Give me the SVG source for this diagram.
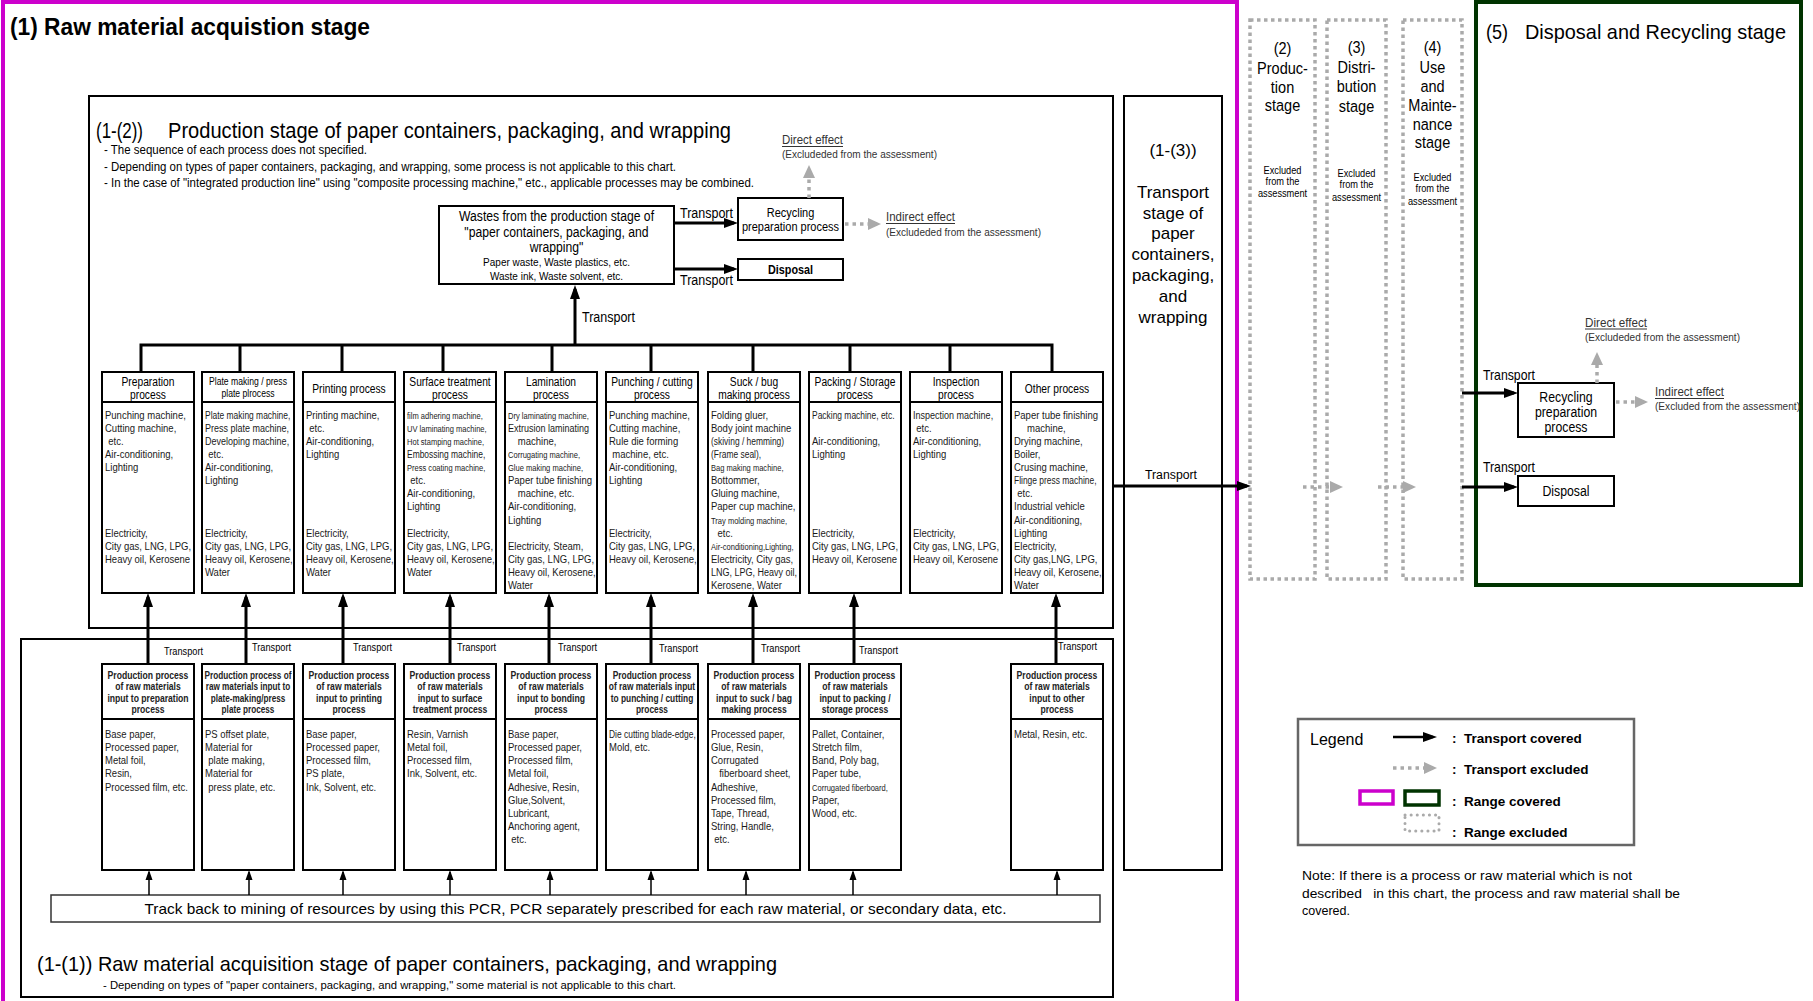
<svg xmlns="http://www.w3.org/2000/svg" width="1813" height="1001" viewBox="0 0 1813 1001">
<style>
text{font-family:"Liberation Sans",Arial,sans-serif;fill:#000}
.bx{fill:#fff;stroke:#000;stroke-width:2}
.fr{fill:none;stroke:#000;stroke-width:2}
.dv{stroke:#000;stroke-width:2}
.hd{font-size:12.5px;text-anchor:middle}
.ct text{fill:#1a1a1a}
.ct{font-size:11.6px}
.md{font-size:11px}
.sm{font-size:10.3px}
.xs{font-size:9.2px}
.rh{font-size:10.5px;font-weight:bold;text-anchor:middle}
.rh text{fill:#222}
.tp{font-size:11px}
.st{font-size:16.5px}
.ex{font-size:10.5px}
.ln{fill:none;stroke:#000;stroke-width:3}
.ar{fill:none;stroke:#000;stroke-width:3;marker-end:url(#ah)}
.as{fill:none;stroke:#000;stroke-width:1.5;marker-end:url(#ahs)}
.ag{fill:none;stroke:#aaa;stroke-width:3.5;stroke-dasharray:3.5 4;marker-end:url(#ahg)}
.db{fill:none;stroke:#aaa;stroke-width:3.5;stroke-dasharray:3.5 3.5}
.gr{fill:#333}
.ul{stroke:#333;stroke-width:1}
.lg{font-size:13.5px;font-weight:bold}
</style>
<defs>
<marker id="ah" markerUnits="userSpaceOnUse" markerWidth="14" markerHeight="10" refX="10" refY="5" orient="auto"><path d="M0,0L14,5L0,10z" fill="#000"/></marker>
<marker id="ahs" markerUnits="userSpaceOnUse" markerWidth="10" markerHeight="8" refX="8" refY="4" orient="auto"><path d="M0,0.5L10,4L0,7.5z" fill="#000"/></marker>
<marker id="ahg" markerUnits="userSpaceOnUse" markerWidth="13" markerHeight="12" refX="9" refY="6" orient="auto"><path d="M0,0L13,6L0,12z" fill="#aaa"/></marker>
</defs>
<rect width="1813" height="1001" fill="#fff"/>

<!-- ranges -->
<g id="range-1">
<rect x="3" y="2" width="1234" height="1010" fill="none" stroke="#cc00cc" stroke-width="4"/>
<text x="10" y="35" font-size="23" font-weight="bold" textLength="360" lengthAdjust="spacingAndGlyphs">(1) Raw material acquistion stage</text>
</g>

<g id="stage-1-2">
<rect class="fr" x="89" y="96" width="1024" height="532"/>
<text x="96" y="138" font-size="22" textLength="47" lengthAdjust="spacingAndGlyphs">(1-(2))</text>
<text x="168" y="138" font-size="22" textLength="563" lengthAdjust="spacingAndGlyphs">Production stage of paper containers, packaging, and wrapping</text>
<text x="104" y="154" font-size="12.5" fill="#222" textLength="263" lengthAdjust="spacingAndGlyphs">- The sequence of each process does not specified.</text>
<text x="104" y="170.5" font-size="12.5" fill="#222" textLength="572" lengthAdjust="spacingAndGlyphs">- Depending on types of paper containers, packaging, and wrapping, some process is not applicable to this chart.</text>
<text x="104" y="187" font-size="12.5" fill="#222" textLength="650" lengthAdjust="spacingAndGlyphs">- In the case of "integrated production line" using "composite processing machine," etc., applicable processes may be combined.</text>
</g>

<g id="stage-1-1">
<rect class="fr" x="21" y="639" width="1092" height="358"/>
<text x="37" y="971" font-size="21" textLength="740" lengthAdjust="spacingAndGlyphs">(1-(1)) Raw material acquisition stage of paper containers, packaging, and wrapping</text>
<text x="103" y="989" font-size="11.5" fill="#222" textLength="573" lengthAdjust="spacingAndGlyphs">- Depending on types of "paper containers, packaging, and wrapping," some material is not applicable to this chart.</text>
</g>

<g id="stage-1-3">
<rect class="fr" x="1124" y="96" width="98" height="774"/>
<g font-size="17" text-anchor="middle">
<text x="1173" y="156">(1-(3))</text>
<text x="1173" y="198">Transport</text>
<text x="1173" y="219">stage of</text>
<text x="1173" y="239">paper</text>
<text x="1173" y="260">containers,</text>
<text x="1173" y="281">packaging,</text>
<text x="1173" y="302">and</text>
<text x="1173" y="323">wrapping</text>
</g>
</g>

<g id="stage-2">
<rect class="db" x="1250" y="20" width="65" height="559"/>
<g transform="matrix(.88 0 0 1 1282.5 0)" text-anchor="middle">
<text class="st" y="54">(2)</text>
<text class="st" y="74">Produc-</text>
<text class="st" y="93">tion</text>
<text class="st" y="111.5">stage</text>
<text class="ex" y="174.5">Excluded</text>
<text class="ex" y="185.5">from the</text>
<text class="ex" y="197">assessment</text>
</g>
</g>
<g id="stage-3">
<rect class="db" x="1327" y="20" width="59" height="559"/>
<g transform="matrix(.88 0 0 1 1356.5 0)" text-anchor="middle">
<text class="st" y="53.5">(3)</text>
<text class="st" y="73">Distri-</text>
<text class="st" y="92.5">bution</text>
<text class="st" y="112">stage</text>
<text class="ex" y="177">Excluded</text>
<text class="ex" y="188.5">from the</text>
<text class="ex" y="201">assessment</text>
</g>
</g>
<g id="stage-4">
<rect class="db" x="1403" y="20" width="59" height="559"/>
<g transform="matrix(.88 0 0 1 1432.5 0)" text-anchor="middle">
<text class="st" y="53.5">(4)</text>
<text class="st" y="73">Use</text>
<text class="st" y="92.5">and</text>
<text class="st" y="111">Mainte-</text>
<text class="st" y="130">nance</text>
<text class="st" y="148.5">stage</text>
<text class="ex" y="181.5">Excluded</text>
<text class="ex" y="192.5">from the</text>
<text class="ex" y="205">assessment</text>
</g>
</g>

<g id="stage-5">
<rect x="1476" y="2" width="325" height="583" fill="none" stroke="#003300" stroke-width="4"/>
<text x="1486" y="38.5" font-size="21" textLength="22" lengthAdjust="spacingAndGlyphs">(5)</text>
<text x="1525" y="38.5" font-size="21" textLength="261" lengthAdjust="spacingAndGlyphs">Disposal and Recycling stage</text>
</g>

<!-- waste handling in production stage -->
<g id="wastes">
<rect class="bx" x="439" y="206" width="235" height="78" stroke-width="1.5"/>
<g transform="matrix(.87 0 0 1 556.5 0)" text-anchor="middle">
<text y="221" font-size="14">Wastes from the production stage of</text>
<text y="237" font-size="14">"paper containers, packaging, and</text>
<text y="252" font-size="14">wrapping"</text>
<text y="266" font-size="11.5" fill="#333">Paper waste, Waste plastics, etc.</text>
<text y="280" font-size="11.5" fill="#333">Waste ink, Waste solvent, etc.</text>
</g>
</g>
<g id="recycle-1">
<rect class="bx" x="738" y="198" width="105" height="42"/>
<g transform="matrix(.82 0 0 1 790.5 0)" text-anchor="middle" font-size="13.4">
<text y="217">Recycling</text>
<text y="231.5">preparation process</text>
</g>
</g>
<g id="disposal-1">
<rect class="bx" x="738" y="259" width="105" height="21"/>
<text transform="matrix(.82 0 0 1 790.5 0)" y="274" text-anchor="middle" font-size="13.2" font-weight="bold">Disposal</text>
</g>
<g id="effects-1">
<text class="gr" x="782" y="144" font-size="12.5" textLength="61" lengthAdjust="spacingAndGlyphs">Direct effect</text>
<line class="ul" x1="782" y1="146.5" x2="843" y2="146.5"/>
<text class="gr" x="782" y="157.5" font-size="10.5" textLength="155" lengthAdjust="spacingAndGlyphs">(Excludeded from the assessment)</text>
<text class="gr" x="886" y="221" font-size="12.5" textLength="69" lengthAdjust="spacingAndGlyphs">Indirect effect</text>
<line class="ul" x1="886" y1="223.5" x2="955" y2="223.5"/>
<text class="gr" x="886" y="236" font-size="10.5" textLength="155" lengthAdjust="spacingAndGlyphs">(Excludeded from the assessment)</text>
</g>

<!-- process boxes -->
<g id="p-preparation">
<rect class="bx" x="102" y="372" width="92" height="221"/>
<line class="dv" x1="102" y1="402" x2="194" y2="402"/>
<g class="hd" transform="matrix(.82 0 0 1 148 0)"><text y="386">Preparation</text><text y="399">process</text></g>
<g class="ct" transform="matrix(.82 0 0 1 105 0)">
<text y="419">Punching machine,</text>
<text y="432">Cutting machine,</text>
<text x="4" y="445">etc.</text>
<text y="458">Air-conditioning,</text>
<text y="471.5">Lighting</text>
<text y="537">Electricity,</text>
<text y="550">City gas, LNG, LPG,</text>
<text y="563">Heavy oil, Kerosene</text>
</g>
</g>
<g id="p-plate">
<rect class="bx" x="202" y="372" width="92" height="221"/>
<line class="dv" x1="202" y1="402" x2="294" y2="402"/>
<g class="hd" style="font-size:10.5px" transform="matrix(.82 0 0 1 248 0)"><text y="385">Plate making / press</text><text y="397">plate plrocess</text></g>
<g class="ct" transform="matrix(.82 0 0 1 205 0)">
<text class="sm" y="419">Plate making machine,</text>
<text class="md" y="432">Press plate machine,</text>
<text class="md" y="445">Developing machine,</text>
<text x="4" y="458">etc.</text>
<text y="471.5">Air-conditioning,</text>
<text y="484.5">Lighting</text>
<text y="537">Electricity,</text>
<text y="550">City gas, LNG, LPG,</text>
<text y="563">Heavy oil, Kerosene,</text>
<text y="576">Water</text>
</g>
</g>
<g id="p-printing">
<rect class="bx" x="303" y="372" width="92" height="221"/>
<line class="dv" x1="303" y1="402" x2="395" y2="402"/>
<g class="hd" transform="matrix(.82 0 0 1 349 0)"><text y="393">Printing process</text></g>
<g class="ct" transform="matrix(.82 0 0 1 306 0)">
<text y="419">Printing machine,</text>
<text x="4" y="432">etc.</text>
<text y="445">Air-conditioning,</text>
<text y="458">Lighting</text>
<text y="537">Electricity,</text>
<text y="550">City gas, LNG, LPG,</text>
<text y="563">Heavy oil, Kerosene,</text>
<text y="576">Water</text>
</g>
</g>
<g id="p-surface">
<rect class="bx" x="404" y="372" width="92" height="221"/>
<line class="dv" x1="404" y1="402" x2="496" y2="402"/>
<g class="hd" transform="matrix(.82 0 0 1 450 0)"><text y="386">Surface treatment</text><text y="399">process</text></g>
<g class="ct" transform="matrix(.82 0 0 1 407 0)">
<text class="xs" y="419">film adhering machine,</text>
<text class="xs" y="432">UV laminating machine,</text>
<text class="xs" y="445">Hot stamping machine,</text>
<text class="sm" y="458">Embossing machine,</text>
<text class="xs" y="471.5">Press coating machine,</text>
<text x="4" y="484.5">etc.</text>
<text y="497.5">Air-conditioning,</text>
<text y="510.5">Lighting</text>
<text y="537">Electricity,</text>
<text y="550">City gas, LNG, LPG,</text>
<text y="563">Heavy oil, Kerosene,</text>
<text y="576">Water</text>
</g>
</g>
<g id="p-lamination">
<rect class="bx" x="505" y="372" width="92" height="221"/>
<line class="dv" x1="505" y1="402" x2="597" y2="402"/>
<g class="hd" transform="matrix(.82 0 0 1 551 0)"><text y="386">Lamination</text><text y="399">process</text></g>
<g class="ct" transform="matrix(.82 0 0 1 508 0)">
<text class="xs" y="419">Dry laminating machine,</text>
<text class="md" y="432">Extrusion laminating</text>
<text x="12" y="445">machine,</text>
<text class="xs" y="458">Corrugating machine,</text>
<text class="xs" y="471.5">Glue making machine,</text>
<text y="484.5">Paper tube finishing</text>
<text x="12" y="497.5">machine, etc.</text>
<text y="510.5">Air-conditioning,</text>
<text y="524">Lighting</text>
<text y="550">Electricity, Steam,</text>
<text y="563">City gas, LNG, LPG,</text>
<text y="576">Heavy oil, Kerosene,</text>
<text y="589">Water</text>
</g>
</g>
<g id="p-punching">
<rect class="bx" x="606" y="372" width="92" height="221"/>
<line class="dv" x1="606" y1="402" x2="698" y2="402"/>
<g class="hd" transform="matrix(.82 0 0 1 652 0)"><text y="386">Punching / cutting</text><text y="399">process</text></g>
<g class="ct" transform="matrix(.82 0 0 1 609 0)">
<text y="419">Punching machine,</text>
<text y="432">Cutting machine,</text>
<text y="445">Rule die forming</text>
<text x="4" y="458">machine, etc.</text>
<text y="471.5">Air-conditioning,</text>
<text y="484.5">Lighting</text>
<text y="537">Electricity,</text>
<text y="550">City gas, LNG, LPG,</text>
<text y="563">Heavy oil, Kerosene,</text>
</g>
</g>
<g id="p-bag">
<rect class="bx" x="708" y="372" width="92" height="221"/>
<line class="dv" x1="708" y1="402" x2="800" y2="402"/>
<g class="hd" transform="matrix(.82 0 0 1 754 0)"><text y="386">Suck / bug</text><text y="399">making process</text></g>
<g class="ct" transform="matrix(.82 0 0 1 711 0)">
<text y="419">Folding gluer,</text>
<text y="432">Body joint machine</text>
<text class="sm" y="445">(skiving / hemming)</text>
<text class="sm" y="458">(Frame seal),</text>
<text class="xs" y="471.5">Bag making machine,</text>
<text y="484.5">Bottommer,</text>
<text y="497.5">Gluing machine,</text>
<text y="510.5">Paper cup machine,</text>
<text class="xs" y="524">Tray molding machine,</text>
<text x="8" y="537">etc.</text>
<text class="xs" y="550">Air-conditioning,Lighting,</text>
<text y="563">Electricity, City gas,</text>
<text class="md" y="576">LNG, LPG, Heavy oil,</text>
<text y="589">Kerosene, Water</text>
</g>
</g>
<g id="p-packing">
<rect class="bx" x="809" y="372" width="92" height="221"/>
<line class="dv" x1="809" y1="402" x2="901" y2="402"/>
<g class="hd" transform="matrix(.82 0 0 1 855 0)"><text y="386">Packing / Storage</text><text y="399">process</text></g>
<g class="ct" transform="matrix(.82 0 0 1 812 0)">
<text class="sm" y="419">Packing machine, etc.</text>
<text y="445">Air-conditioning,</text>
<text y="458">Lighting</text>
<text y="537">Electricity,</text>
<text y="550">City gas, LNG, LPG,</text>
<text y="563">Heavy oil, Kerosene</text>
</g>
</g>
<g id="p-inspection">
<rect class="bx" x="910" y="372" width="92" height="221"/>
<line class="dv" x1="910" y1="402" x2="1002" y2="402"/>
<g class="hd" transform="matrix(.82 0 0 1 956 0)"><text y="386">Inspection</text><text y="399">process</text></g>
<g class="ct" transform="matrix(.82 0 0 1 913 0)">
<text class="md" y="419">Inspection machine,</text>
<text x="4" y="432">etc.</text>
<text y="445">Air-conditioning,</text>
<text y="458">Lighting</text>
<text y="537">Electricity,</text>
<text y="550">City gas, LNG, LPG,</text>
<text y="563">Heavy oil, Kerosene</text>
</g>
</g>
<g id="p-other">
<rect class="bx" x="1011" y="372" width="92" height="221"/>
<line class="dv" x1="1011" y1="402" x2="1103" y2="402"/>
<g class="hd" transform="matrix(.82 0 0 1 1057 0)"><text y="393">Other process</text></g>
<g class="ct" transform="matrix(.82 0 0 1 1014 0)">
<text y="419">Paper tube finishing</text>
<text x="16" y="432">machine,</text>
<text y="445">Drying machine,</text>
<text y="458">Boiler,</text>
<text y="471.5">Crusing machine,</text>
<text class="sm" y="484.5">Flinge press machine,</text>
<text x="4" y="497.5">etc.</text>
<text y="510.5">Industrial vehicle</text>
<text y="524">Air-conditioning,</text>
<text y="537">Lighting</text>
<text y="550">Electricity,</text>
<text y="563">City gas,LNG, LPG,</text>
<text y="576">Heavy oil, Kerosene,</text>
<text y="589">Water</text>
</g>
</g>

<!-- raw material boxes -->
<g id="r-preparation">
<rect class="bx" x="102" y="664" width="92" height="206"/>
<line class="dv" x1="102" y1="719" x2="194" y2="719"/>
<g class="rh" transform="matrix(.82 0 0 1 148 0)"><text y="679">Production process</text><text y="690.5">of raw materials</text><text y="702">input to preparation</text><text y="713.5">process</text></g>
<g class="ct" transform="matrix(.82 0 0 1 105 0)">
<text y="738.5">Base paper,</text><text y="751.5">Processed paper,</text><text y="764.5">Metal foil,</text><text y="777.5">Resin,</text><text y="791">Processed film, etc.</text>
</g>
</g>
<g id="r-plate">
<rect class="bx" x="202" y="664" width="92" height="206"/>
<line class="dv" x1="202" y1="719" x2="294" y2="719"/>
<g class="rh" style="font-size:10px" transform="matrix(.82 0 0 1 248 0)"><text y="679">Production process of</text><text y="690.5">raw materials input to</text><text y="702">plate-making/press</text><text y="713.5">plate  process</text></g>
<g class="ct" transform="matrix(.82 0 0 1 205 0)">
<text y="738.5">PS offset plate,</text><text y="751.5">Material for</text><text x="4" y="764.5">plate making,</text><text y="777.5">Material for</text><text x="4" y="791">press plate, etc.</text>
</g>
</g>
<g id="r-printing">
<rect class="bx" x="303" y="664" width="92" height="206"/>
<line class="dv" x1="303" y1="719" x2="395" y2="719"/>
<g class="rh" transform="matrix(.82 0 0 1 349 0)"><text y="679">Production process</text><text y="690.5">of raw materials</text><text y="702">input to printing</text><text y="713.5">process</text></g>
<g class="ct" transform="matrix(.82 0 0 1 306 0)">
<text y="738.5">Base paper,</text><text y="751.5">Processed paper,</text><text y="764.5">Processed film,</text><text y="777.5">PS plate,</text><text y="791">Ink, Solvent, etc.</text>
</g>
</g>
<g id="r-surface">
<rect class="bx" x="404" y="664" width="92" height="206"/>
<line class="dv" x1="404" y1="719" x2="496" y2="719"/>
<g class="rh" transform="matrix(.82 0 0 1 450 0)"><text y="679">Production process</text><text y="690.5">of raw materials</text><text y="702">input to surface</text><text y="713.5">treatment process</text></g>
<g class="ct" transform="matrix(.82 0 0 1 407 0)">
<text y="738.5">Resin, Varnish</text><text y="751.5">Metal foil,</text><text y="764.5">Processed film,</text><text y="777.5">Ink, Solvent, etc.</text>
</g>
</g>
<g id="r-bonding">
<rect class="bx" x="505" y="664" width="92" height="206"/>
<line class="dv" x1="505" y1="719" x2="597" y2="719"/>
<g class="rh" transform="matrix(.82 0 0 1 551 0)"><text y="679">Production process</text><text y="690.5">of raw materials</text><text y="702">input to bonding</text><text y="713.5">process</text></g>
<g class="ct" transform="matrix(.82 0 0 1 508 0)">
<text y="738.5">Base paper,</text><text y="751.5">Processed paper,</text><text y="764.5">Processed film,</text><text y="777.5">Metal foil,</text><text y="791">Adhesive, Resin,</text><text y="804">Glue,Solvent,</text><text y="817">Lubricant,</text><text y="830">Anchoring agent,</text><text x="4" y="843">etc.</text>
</g>
</g>
<g id="r-punching">
<rect class="bx" x="606" y="664" width="92" height="206"/>
<line class="dv" x1="606" y1="719" x2="698" y2="719"/>
<g class="rh" style="font-size:10.2px" transform="matrix(.82 0 0 1 652 0)"><text y="679">Production process</text><text y="690.5">of raw materials input</text><text y="702">to punching / cutting</text><text y="713.5">process</text></g>
<g class="ct" transform="matrix(.82 0 0 1 609 0)">
<text class="sm" y="738.5">Die cutting blade-edge,</text><text y="751.5">Mold, etc.</text>
</g>
</g>
<g id="r-bag">
<rect class="bx" x="708" y="664" width="92" height="206"/>
<line class="dv" x1="708" y1="719" x2="800" y2="719"/>
<g class="rh" transform="matrix(.82 0 0 1 754 0)"><text y="679">Production process</text><text y="690.5">of raw materials</text><text y="702">input to suck / bag</text><text y="713.5">making process</text></g>
<g class="ct" transform="matrix(.82 0 0 1 711 0)">
<text y="738.5">Processed paper,</text><text y="751.5">Glue, Resin,</text><text y="764.5">Corrugated</text><text x="10" y="777.5">fiberboard sheet,</text><text y="791">Adheshive,</text><text y="804">Processed film,</text><text y="817">Tape, Thread,</text><text y="830">String, Handle,</text><text x="4" y="843">etc.</text>
</g>
</g>
<g id="r-packing">
<rect class="bx" x="809" y="664" width="92" height="206"/>
<line class="dv" x1="809" y1="719" x2="901" y2="719"/>
<g class="rh" transform="matrix(.82 0 0 1 855 0)"><text y="679">Production process</text><text y="690.5">of raw materials</text><text y="702">input to packing /</text><text y="713.5">storage process</text></g>
<g class="ct" transform="matrix(.82 0 0 1 812 0)">
<text y="738.5">Pallet, Container,</text><text y="751.5">Stretch film,</text><text y="764.5">Band, Poly bag,</text><text y="777.5">Paper tube,</text><text class="xs" y="791">Corrugated fiberboard,</text><text y="804">Paper,</text><text y="817">Wood, etc.</text>
</g>
</g>
<g id="r-other">
<rect class="bx" x="1011" y="664" width="92" height="206"/>
<line class="dv" x1="1011" y1="719" x2="1103" y2="719"/>
<g class="rh" transform="matrix(.82 0 0 1 1057 0)"><text y="679">Production process</text><text y="690.5">of raw materials</text><text y="702">input to other</text><text y="713.5">process</text></g>
<g class="ct" transform="matrix(.82 0 0 1 1014 0)">
<text y="738.5">Metal, Resin, etc.</text>
</g>
</g>

<g id="trackback">
<rect x="51" y="895" width="1049" height="27" fill="#fff" stroke="#333" stroke-width="1.5"/>
<text x="575.5" y="914" font-size="15" text-anchor="middle" textLength="862" lengthAdjust="spacingAndGlyphs">Track back to mining of resources by using this PCR, PCR separately prescribed for each raw material, or secondary data, etc.</text>
</g>

<!-- disposal & recycling stage nodes -->
<g id="recycle-5">
<rect class="bx" x="1518" y="383" width="96" height="54"/>
<g transform="matrix(.82 0 0 1 1566 0)" text-anchor="middle" font-size="15">
<text y="402">Recycling</text><text y="417">preparation</text><text y="432">process</text>
</g>
</g>
<g id="disposal-5">
<rect class="bx" x="1518" y="476" width="96" height="30"/>
<text transform="matrix(.82 0 0 1 1566 0)" y="496" text-anchor="middle" font-size="15">Disposal</text>
</g>
<g id="effects-5">
<text class="gr" x="1585" y="326.5" font-size="12.5" textLength="62" lengthAdjust="spacingAndGlyphs">Direct effect</text>
<line class="ul" x1="1585" y1="329" x2="1647" y2="329"/>
<text class="gr" x="1585" y="340.5" font-size="10.5" textLength="155" lengthAdjust="spacingAndGlyphs">(Excludeded from the assessment)</text>
<text class="gr" x="1655" y="396" font-size="12.5" textLength="69" lengthAdjust="spacingAndGlyphs">Indirect effect</text>
<line class="ul" x1="1655" y1="398.5" x2="1724" y2="398.5"/>
<text class="gr" x="1655" y="410" font-size="10.5" textLength="145" lengthAdjust="spacingAndGlyphs">(Excluded from the assessment)</text>
</g>

<!-- legend -->
<g id="legend">
<rect x="1298" y="719" width="336" height="126" fill="#fff" stroke="#666" stroke-width="2.5"/>
<text x="1310" y="745" font-size="16">Legend</text>
<path d="M1393,737H1433" fill="none" stroke="#000" stroke-width="2.5" marker-end="url(#ah)"/>
<path class="ag" d="M1393,768H1433" stroke-width="2.5" stroke-dasharray="2 4"/>
<rect x="1360" y="791" width="33" height="13" fill="none" stroke="#cc00cc" stroke-width="3.5"/>
<rect x="1405" y="791" width="34" height="14" fill="none" stroke="#003300" stroke-width="3.5"/>
<rect x="1405" y="815" width="34" height="16" fill="none" stroke="#aaa" stroke-width="3" stroke-dasharray="0.1 6" stroke-linecap="round"/>
<text class="lg" x="1452" y="743">:</text><text class="lg" x="1464" y="743">Transport covered</text>
<text class="lg" x="1452" y="774">:</text><text class="lg" x="1464" y="774">Transport excluded</text>
<text class="lg" x="1452" y="806">:</text><text class="lg" x="1464" y="806">Range covered</text>
<text class="lg" x="1452" y="837">:</text><text class="lg" x="1464" y="837">Range excluded</text>
</g>
<g id="note">
<text x="1302" y="880" font-size="12.5" fill="#222" textLength="330" lengthAdjust="spacingAndGlyphs">Note: If there is a process or raw material which is not</text>
<text x="1302" y="898" font-size="12.5" fill="#222" textLength="378" lengthAdjust="spacingAndGlyphs" xml:space="preserve">described   in this chart, the process and raw material shall be</text>
<text x="1302" y="915" font-size="12.5" fill="#222">covered.</text>
</g>

<!-- connectors -->
<g id="connectors">
<path class="ln" d="M141,345H1052M141,343.5V372M240,345V372M342,345V372M443,345V372M552,345V372M651,345V372M753,345V372M850,345V372M950,345V372M1052,343.5V372"/>
<path class="ar" d="M575,345V289"/>
<path class="ar" d="M674,223H734"/>
<path class="ar" d="M674,269H734"/>
<path class="ar" d="M1113,486H1247"/>
<path class="ar" d="M1462,393H1514"/>
<path class="ar" d="M1462,487H1514"/>
<path class="ar" d="M148,664V597"/>
<path class="ar" d="M246,664V597"/>
<path class="ar" d="M343,664V597"/>
<path class="ar" d="M450,664V597"/>
<path class="ar" d="M549,664V597"/>
<path class="ar" d="M651,664V597"/>
<path class="ar" d="M753,664V597"/>
<path class="ar" d="M854,664V597"/>
<path class="ar" d="M1056,664V597"/>
<path class="as" d="M149,895V872"/>
<path class="as" d="M249,895V872"/>
<path class="as" d="M343,895V872"/>
<path class="as" d="M450,895V872"/>
<path class="as" d="M550,895V872"/>
<path class="as" d="M651,895V872"/>
<path class="as" d="M746,895V872"/>
<path class="as" d="M853,895V872"/>
<path class="as" d="M1057,895V872"/>
<path class="ag" d="M809,198V169"/>
<path class="ag" d="M845,224H877"/>
<path class="ag" d="M1303,487H1339"/>
<path class="ag" d="M1378,487H1412"/>
<path class="ag" d="M1597,383V356"/>
<path class="ag" d="M1616,402H1644"/>
<g class="tp">
<text x="680" y="218" font-size="14" textLength="53" lengthAdjust="spacingAndGlyphs">Transport</text>
<text x="680" y="285" font-size="14" textLength="53" lengthAdjust="spacingAndGlyphs">Transport</text>
<text x="582" y="321.5" font-size="14" textLength="53" lengthAdjust="spacingAndGlyphs">Transport</text>
<text x="1171" y="479" font-size="12" text-anchor="middle" textLength="52" lengthAdjust="spacingAndGlyphs">Transport</text>
<text x="1483" y="380" font-size="15" textLength="52" lengthAdjust="spacingAndGlyphs">Transport</text>
<text x="1483" y="472" font-size="15" textLength="52" lengthAdjust="spacingAndGlyphs">Transport</text>
<text x="164" y="655" textLength="39" lengthAdjust="spacingAndGlyphs">Transport</text>
<text x="252" y="651" textLength="39" lengthAdjust="spacingAndGlyphs">Transport</text>
<text x="353" y="651" textLength="39" lengthAdjust="spacingAndGlyphs">Transport</text>
<text x="457" y="651" textLength="39" lengthAdjust="spacingAndGlyphs">Transport</text>
<text x="558" y="651" textLength="39" lengthAdjust="spacingAndGlyphs">Transport</text>
<text x="659" y="652" textLength="39" lengthAdjust="spacingAndGlyphs">Transport</text>
<text x="761" y="652" textLength="39" lengthAdjust="spacingAndGlyphs">Transport</text>
<text x="859" y="653.5" textLength="39" lengthAdjust="spacingAndGlyphs">Transport</text>
<text x="1058" y="650" textLength="39" lengthAdjust="spacingAndGlyphs">Transport</text>
</g>
</g>
</svg>
